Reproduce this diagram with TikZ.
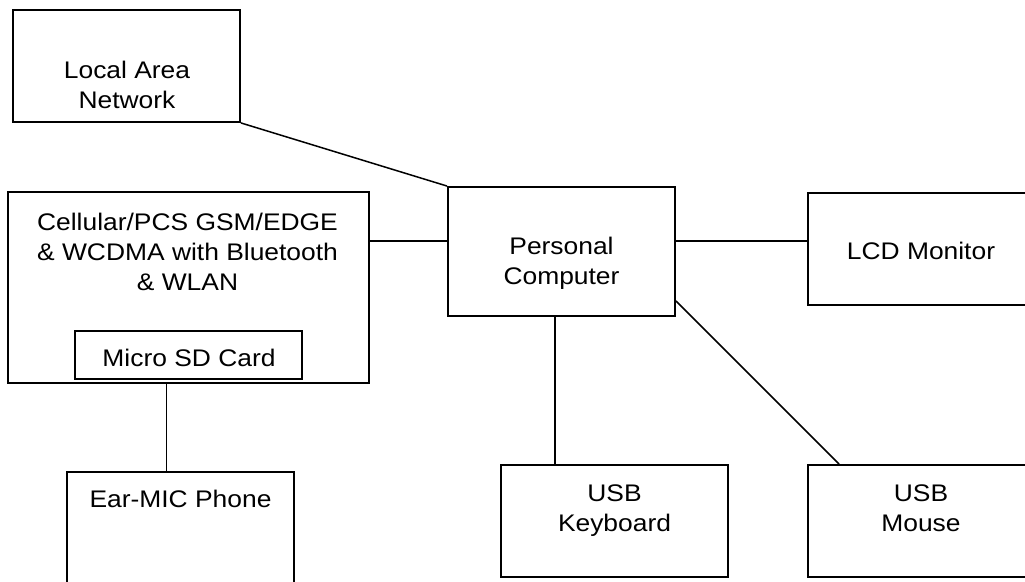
\documentclass[tikz,border=0pt]{standalone}
\usepackage{fontspec}
\newfontfamily\boxfont[FakeStretch=1.1]{Liberation Sans}
\usetikzlibrary{calc}

\begin{document}
\begin{tikzpicture}[x=1pt,y=-1pt,
  box/.style={draw,line width=1.9pt,minimum width=227pt,inner sep=0pt},
  txt/.style={anchor=north,align=center,inner sep=0pt,font=\boxfont\fontsize{24}{30}\selectfont},
  wire/.style={line width=1.5pt}]
\useasboundingbox (0,0) rectangle (1025,581);
% boxes
\foreach\n/\x/\y/\w/\h in {lan/126.5/66/227/112,cell/188.5/287.5/361/191,sd/188.5/355/227/48,
  ear/180.5/528.5/227/113,pc/561.5/251.5/227/129,lcd/922/249/228/112,
  kb/614.5/521/227/112,mouse/922/521/228/112} {
\node[box,minimum width=\w pt,minimum height=\h pt] (\n) at (\x,\y) {};}
% texts
\node[txt] (lant) at (127,60.5) {Local Area\\Network};
\node[txt] (cellt) at (187.5,213) {Cellular/PCS GSM/EDGE\\\& WCDMA with Bluetooth\\\& WLAN};
\node[txt] (sdt) at (189,348.5) {Micro SD Card};
\node[txt] (eart) at (180.5,490) {Ear-MIC Phone};
\node[txt] (pct) at (561.5,237) {Personal\\Computer};
\node[txt] (lcdt) at (921,242) {LCD Monitor};
\node[txt] (kbt) at (614.5,485) {USB\\Keyboard};
\node[txt] (mouset) at (921,485) {USB\\Mouse};
% connectors
\draw[wire] (lan.south east)--(pc.north west);
\draw[wire] ([yshift=10.5pt]pc.west)coordinate (pcw)--(pcw-|cell.east);
\draw[wire] ([yshift=10.5pt]pc.east)coordinate (pce)--(pce-|lcd.west);
\draw[wire] ([xshift=-6.5pt]pc.south)coordinate (pcs)--(pcs|-kb.north);
\draw[wire] ([yshift=16pt]pc.south east)--([xshift=32pt]mouse.north west);
\draw[line width=1pt] ([xshift=-14.5pt]ear.north)coordinate (earn)--(earn|-cell.south);
\end{tikzpicture}
\end{document}
